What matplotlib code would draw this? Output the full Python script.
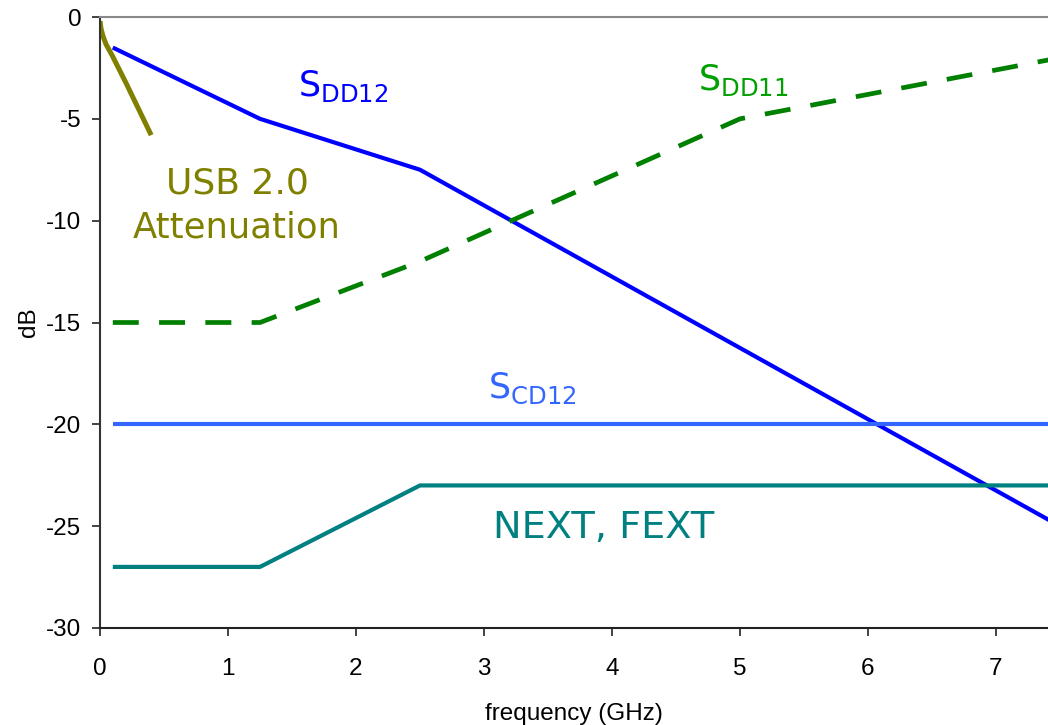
import matplotlib
matplotlib.use("Agg")
import matplotlib.pyplot as plt

plt.rcParams["axes.unicode_minus"] = False

# ---- data ----
sdd12_f = [0.1, 1.25, 2.5, 7.5]
sdd12_db = [-1.5, -5.0, -7.5, -25.0]

sdd11_f = [0.1, 1.25, 2.5, 5.0, 7.5]
sdd11_db = [-15.0, -15.0, -12.0, -5.0, -2.0]

scd12_f = [0.1, 7.5]
scd12_db = [-20.0, -20.0]

xt_f = [0.1, 1.25, 2.5, 7.5]
xt_db = [-27.0, -27.0, -23.0, -23.0]

usb2_f = [0.001, 0.004, 0.008, 0.012, 0.024, 0.048, 0.096, 0.2, 0.4]
usb2_db = [-0.2, -0.39, -0.57, -0.67, -0.95, -1.35, -1.9, -3.2, -5.8]

xticks = [0, 1, 2, 3, 4, 5, 6, 7]
yticks = [0, -5, -10, -15, -20, -25, -30]

# ---- figure ----
fig = plt.figure(figsize=(10.48, 7.25), dpi=100)
ax = fig.add_axes([100/1048, 1-628/725, 1-100/1048, (628-17)/725])

lw = 3.0
ax.plot(usb2_f, usb2_db, color="#808000", lw=3.6, solid_capstyle="butt")
ax.plot(sdd12_f, sdd12_db, color="#0000FF", lw=lw, solid_capstyle="butt")
ax.plot(sdd11_f, sdd11_db, color="#008000", lw=3.4, ls=(0, (5.5, 4.3)))
ax.plot(scd12_f, scd12_db, color="#3366FF", lw=lw, solid_capstyle="butt")
ax.plot(xt_f, xt_db, color="#008080", lw=lw, solid_capstyle="butt")

ax.set_xlim(0, (1048-100)/128)
ax.set_ylim(-30, 0)
ax.set_xticks(xticks)
ax.set_yticks(yticks)

tickfont = ["Liberation Sans", "DejaVu Sans"]
for lab in ax.get_xticklabels() + ax.get_yticklabels():
    lab.set_fontfamily(tickfont)
    lab.set_fontsize(17.5)
ax.tick_params(direction="out", length=5.5, width=1.2, color="#222222")
ax.tick_params(axis="x", pad=16)
ax.tick_params(axis="y", pad=8)
ax.set_xlabel("frequency (GHz)", fontsize=17.5, family=tickfont, labelpad=17)
ax.set_ylabel("dB", fontsize=17.5, family=tickfont, labelpad=4)

ax.spines["right"].set_visible(False)
ax.spines["top"].set_color("#888888")
ax.spines["left"].set_color("#333333")
ax.spines["bottom"].set_color("#222222")
for s in ax.spines.values():
    s.set_linewidth(1.5)

def px2x(px):
    return (px - 100) / 128
def py2y(py):
    return -(py - 17) / (611 / 30)

lf = ["DejaVu Sans"]
ax.text(px2x(298), py2y(96), r"$\mathregular{S_{DD12}}$", color="#0000FF",
        fontsize=25, family=lf, ha="left", va="baseline")
ax.text(px2x(698), py2y(90), r"$\mathregular{S_{DD11}}$", color="#00A000",
        fontsize=25, family=lf, ha="left", va="baseline")
ax.text(px2x(488), py2y(398), r"$\mathregular{S_{CD12}}$", color="#3366FF",
        fontsize=25, family=lf, ha="left", va="baseline")
ax.text(px2x(493), py2y(538), "NEXT, FEXT", color="#008080",
        fontsize=27.5, family=lf, ha="left", va="baseline")
ax.text(px2x(237), py2y(193), "USB 2.0", color="#808000",
        fontsize=26, family=lf, ha="center", va="baseline")
ax.text(px2x(237), py2y(237), "Attenuation", color="#808000",
        fontsize=25.5, family=lf, ha="center", va="baseline")

fig.savefig("out.png", dpi=100)
